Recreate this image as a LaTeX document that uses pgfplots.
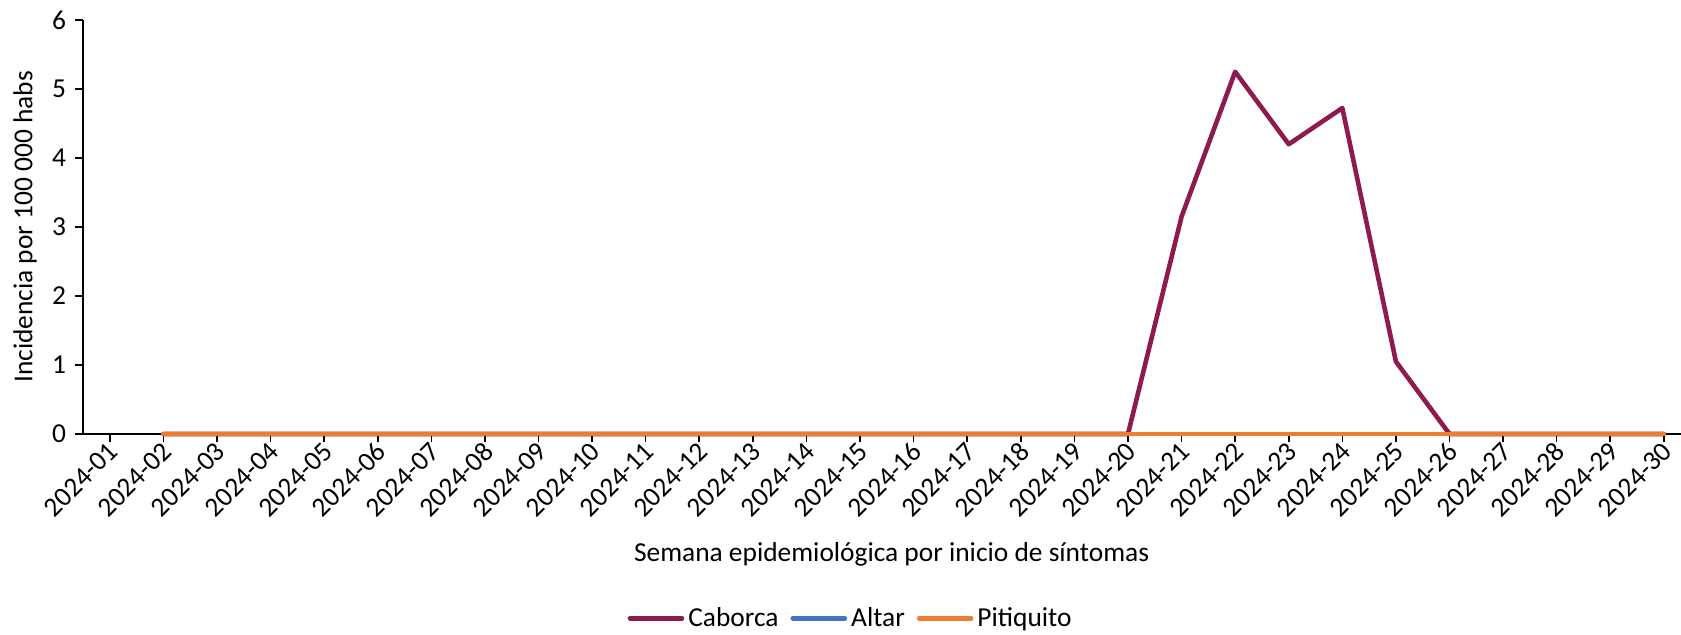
\documentclass[border=0pt]{standalone}
\usepackage{pgfplots}
\pgfplotsset{compat=1.18}
\usepackage{fontspec}
\setmainfont{Carlito}
\definecolor{caborca}{HTML}{8E1B50}
\definecolor{altar}{HTML}{4472C4}
\definecolor{piti}{HTML}{ED7D31}
\begin{document}
\begin{tikzpicture}[font=\fontsize{13.7}{16}\selectfont]
\begin{axis}[
  at={(0,0)}, anchor=south west,
  scale only axis, width=799pt, height=207pt,
  xmin=0.5, xmax=30.32, ymin=0, ymax=6,
  clip=false,
  axis x line*=bottom, axis y line*=left,
  axis line style={black, line width=1pt, -},
  xtick={1,...,30},
  xticklabels={2024-01,2024-02,2024-03,2024-04,2024-05,2024-06,2024-07,2024-08,2024-09,2024-10,2024-11,2024-12,2024-13,2024-14,2024-15,2024-16,2024-17,2024-18,2024-19,2024-20,2024-21,2024-22,2024-23,2024-24,2024-25,2024-26,2024-27,2024-28,2024-29,2024-30},
  ytick={0,1,2,3,4,5,6},
  tick align=outside,
  major tick length=4pt,
  tick style={black, line width=0.8pt},
  xticklabel style={rotate=45, anchor=east, xshift=3pt, yshift=-3pt},
  yticklabel style={xshift=-1pt},
  /pgf/number format/assume math mode=true,
  xlabel={Semana epidemiológica por inicio de síntomas},
  ylabel={Incidencia por 100 000 habs},
  every axis x label/.style={at={(axis description cs:0.506,-0.2899)}, anchor=center},
  every axis y label/.style={at={(axis description cs:-0.0363,0.5)}, anchor=center, rotate=90},
  legend style={at={(axis description cs:0.481,-0.445)}, anchor=center, draw=none, fill=none, legend columns=-1, /tikz/every even column/.append style={column sep=4pt}},
  legend image code/.code={\draw[#1, line cap=round] (0pt,0pt) -- (26pt,0pt);},
  every axis plot/.append style={line width=2.3pt, line join=round, line cap=round},
]
\addplot[caborca] coordinates {
(2,0)(3,0)(4,0)(5,0)(6,0)(7,0)(8,0)(9,0)(10,0)(11,0)(12,0)(13,0)(14,0)(15,0)(16,0)(17,0)(18,0)(19,0)(20,0)
(21,3.15)(22,5.25)(23,4.2)(24,4.725)(25,1.05)(26,0)(27,0)(28,0)(29,0)(30,0)};
\addlegendentry{Caborca}
\addplot[altar] coordinates {
(2,0)(3,0)(4,0)(5,0)(6,0)(7,0)(8,0)(9,0)(10,0)(11,0)(12,0)(13,0)(14,0)(15,0)(16,0)(17,0)(18,0)(19,0)(20,0)
(21,0)(22,0)(23,0)(24,0)(25,0)(26,0)(27,0)(28,0)(29,0)(30,0)};
\addlegendentry{Altar}
\addplot[piti] coordinates {
(2,0)(3,0)(4,0)(5,0)(6,0)(7,0)(8,0)(9,0)(10,0)(11,0)(12,0)(13,0)(14,0)(15,0)(16,0)(17,0)(18,0)(19,0)(20,0)
(21,0)(22,0)(23,0)(24,0)(25,0)(26,0)(27,0)(28,0)(29,0)(30,0)};
\addlegendentry{Pitiquito}
\end{axis}
\pgfresetboundingbox
\path (-41.5pt,-100pt) rectangle (799pt,217pt);
\end{tikzpicture}
\end{document}
